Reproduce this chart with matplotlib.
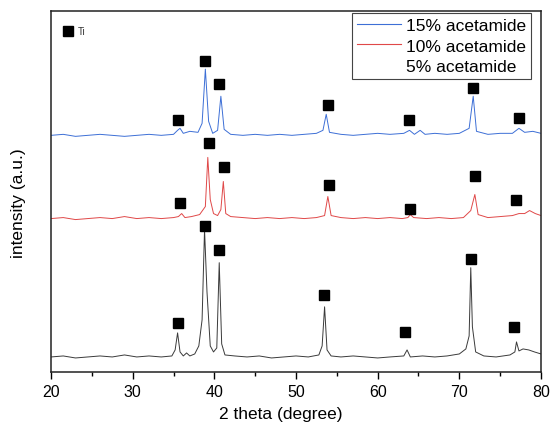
import matplotlib
matplotlib.use("Agg")
import matplotlib.pyplot as plt
from matplotlib.lines import Line2D

plt.rcParams['font.family'] = ['Liberation Sans', 'DejaVu Sans']

# ---- data (2theta, intensity in arbitrary offset units) ----
black_x = [20, 21.5, 23, 24.5, 26, 27.5, 29, 30.5, 32, 33.5, 34.8, 35.2, 35.5, 35.8, 36.2, 36.6, 37.0, 37.6,
           38.1, 38.5, 38.8, 39.1, 39.5, 39.9, 40.3, 40.6, 40.9, 41.3, 42.5, 44, 45.5, 47, 48.5, 50, 51.5,
           52.8, 53.2, 53.5, 53.8, 54.3, 55.5, 57, 58.5, 60, 61.5, 63.2, 63.6, 64.0, 65.5, 67, 68.5, 70.0,
           70.8, 71.2, 71.4, 71.6, 72.0, 73, 74.5, 76.2, 76.8, 77.0, 77.3, 77.8, 78.5, 79.2, 80]
black_y = [15, 16, 14, 15, 16, 15, 17, 15, 16, 15, 16, 22, 39, 20, 16, 19, 16, 18,
           26, 52, 142, 80, 26, 20, 24, 109, 28, 17, 16, 15, 16, 14, 15, 16, 15,
           17, 26, 65, 22, 16, 15, 16, 15, 14, 15, 16, 22, 15, 16, 15, 16, 18,
           23, 36, 104, 45, 20, 16, 15, 17, 20, 30, 21, 23, 22, 20, 18]

red_x = [20, 21.5, 23, 24.5, 26, 27.5, 29, 30.5, 32, 33.5, 35.0, 35.6, 36.0, 36.4, 37.2, 38.2, 38.9, 39.2,
         39.5, 39.9, 40.4, 40.8, 41.1, 41.4, 42.0, 43.5, 45, 46.5, 48, 49.5, 51, 52.5, 53.5, 53.9, 54.3,
         55.5, 57, 58.5, 60, 61.5, 63, 63.7, 64.0, 64.4, 66, 67.5, 69, 70.5, 71.4, 71.9, 72.3, 73.5, 75,
         76.5, 77.3, 78.0, 78.6, 79.3, 80]
red_y = [153, 154, 152, 153, 154, 153, 155, 153, 154, 153, 154, 155, 158, 154, 155, 157, 165, 214,
         172, 158, 156, 162, 190, 158, 155, 154, 153, 154, 153, 154, 153, 154, 156, 175, 156,
         154, 153, 154, 153, 154, 153, 154, 157, 154, 153, 154, 153, 154, 161, 177, 157, 154, 155,
         156, 158, 158, 161, 158, 156]

blue_x = [20, 21.5, 23, 24.5, 26, 27.5, 29, 30.5, 32, 33.5, 35.0, 35.5, 35.8, 36.2, 37.0, 38.0, 38.5, 38.9,
          39.3, 39.8, 40.4, 40.8, 41.2, 42.0, 43.5, 45.0, 46.5, 48, 49.5, 51, 52.5, 53.3, 53.7, 54.1,
          55.5, 57, 58.5, 60, 61.5, 63.2, 63.9, 64.5, 65.2, 65.8, 67, 68.5, 70.0, 71.2, 71.7, 72.1,
          73.5, 75, 76.5, 77.3, 78.0, 79.0, 80]
blue_y = [236, 237, 235, 236, 237, 236, 235, 236, 237, 236, 237, 241, 243, 238, 240, 239, 248, 302,
          250, 238, 241, 275, 242, 237, 236, 237, 236, 237, 236, 237, 238, 241, 257, 239,
          237, 236, 237, 238, 237, 238, 241, 237, 241, 237, 238, 237, 238, 243, 275, 240,
          237, 238, 238, 243, 239, 240, 238]

# Ti peak markers
blue_mx = [35.6, 38.8, 40.6, 53.9, 63.8, 71.7, 77.3]
blue_my = [251, 310, 287, 266, 251, 283, 253]
red_mx = [35.8, 39.4, 41.2, 54.0, 64.0, 71.9, 76.9]
red_my = [169, 228, 204, 186, 163, 195, 172]
black_mx = [35.6, 38.8, 40.6, 53.4, 63.4, 71.4, 76.7]
black_my = [49, 146, 122, 77, 40, 113, 45]

labels = ['15% acetamide', '10% acetamide', '5% acetamide']
xticks = [20, 30, 40, 50, 60, 70, 80]

# ---- figure ----
fig = plt.figure(figsize=(5.5, 4.27), dpi=100)
ax = fig.add_axes([51/550, 54/427, 490/550, 361/427])

c_blue = '#3d6fd6'
c_red = '#e04848'
c_black = '#3a3a3a'

ax.plot(blue_x, blue_y, color=c_blue, lw=0.7)
ax.plot(red_x, red_y, color=c_red, lw=0.7)
ax.plot(black_x, black_y, color=c_black, lw=0.7)

for mx, my in [(blue_mx, blue_my), (red_mx, red_my), (black_mx, black_my)]:
    ax.plot(mx, my, ls='none', marker='s', ms=7.8, color='black')

# Ti key
ax.plot([22.1], [340], ls='none', marker='s', ms=6.5, color='black')
ax.text(23.3, 340, 'Ti', fontsize=7, va='center', ha='left', color='#333333')

ax.set_xlim(20, 80)
ax.set_ylim(0, 360)
ax.set_xticks(xticks)
ax.set_xticks([25, 35, 45, 55, 65, 75], minor=True)
ax.set_yticks([])
ax.tick_params(axis='x', which='major', direction='out', length=5, width=1, labelsize=11.5, pad=4, top=False)
ax.tick_params(axis='x', which='minor', direction='out', length=3, width=1, top=False)
for s in ax.spines.values():
    s.set_linewidth(1.1)
    s.set_color('#222222')

ax.set_xlabel('2 theta (degree)', fontsize=12.5)
ax.xaxis.set_label_coords(0.468, -0.094)
ax.set_ylabel('intensity (a.u.)', fontsize=12.5)
ax.yaxis.set_label_coords(-0.052, 0.47)

handles = [Line2D([], [], color=c_blue, lw=0.8),
           Line2D([], [], color=c_red, lw=0.8),
           Line2D([], [], color='none', lw=0.8)]
leg = ax.legend(handles, labels, loc='upper right', bbox_to_anchor=(0.98, 0.995), borderaxespad=0,
                fontsize=12.5, handlelength=2.5, handletextpad=0.3, labelspacing=0.3,
                borderpad=0.3, fancybox=False, framealpha=1, edgecolor='#444444')
leg.get_frame().set_linewidth(0.8)

fig.savefig('out.png', dpi=100)
